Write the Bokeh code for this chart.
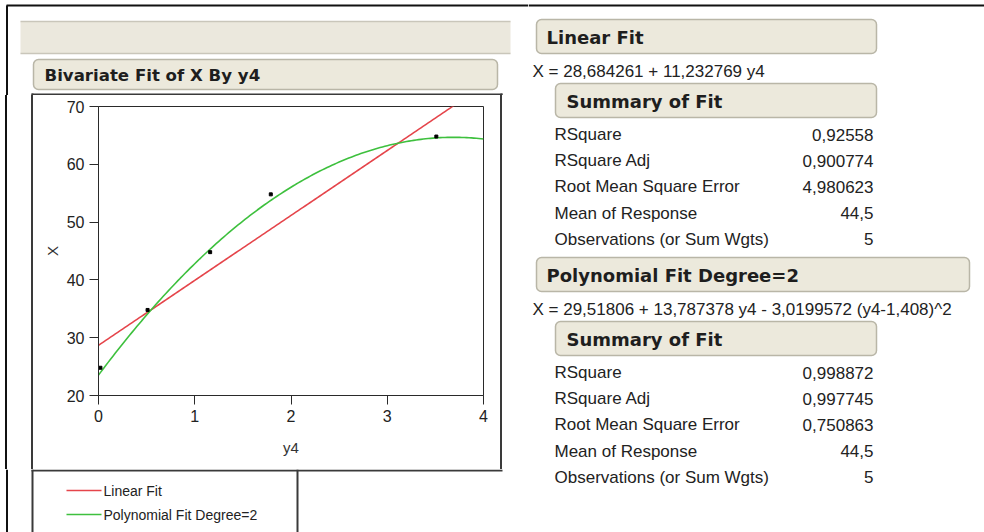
from bokeh.plotting import figure
from bokeh.layouts import row, column
from bokeh.models import Range1d, FixedTicker, Div
from bokeh.core.properties import value
from bokeh.embed import file_html
from bokeh.resources import INLINE
import numpy as np

# ---------------- data ----------------
y4 = [0.02, 0.51, 1.16, 1.79, 3.51]
X = [24.8, 34.8, 44.8, 54.8, 64.8]
x_ticks = [0, 1, 2, 3, 4]
y_ticks = [20, 30, 40, 50, 60, 70]
lin_coef = [28.684261, 11.232769]             # intercept, slope
poly_coef = [29.51806, 13.787378, -3.0199572]  # intercept, linear, quadratic (centered)
poly_center = 1.408

chart_title = "Bivariate Fit of X By y4"
lin_title = "Linear Fit"
lin_eq = "X = 28,684261 + 11,232769 y4"
poly_title = "Polynomial Fit Degree=2"
poly_eq = "X = 29,51806 + 13,787378 y4 - 3,0199572 (y4-1,408)^2"
summary_title = "Summary of Fit"
summary_labels = ["RSquare", "RSquare Adj", "Root Mean Square Error",
                  "Mean of Response", "Observations (or Sum Wgts)"]
lin_values = ["0,92558", "0,900774", "4,980623", "44,5", "5"]
poly_values = ["0,998872", "0,997745", "0,750863", "44,5", "5"]
legend_labels = ["Linear Fit", "Polynomial Fit Degree=2"]

RED = "#E5454B"
GREEN = "#3EC03E"
PANEL = "#ECE9DC"
PANEL_LINE = "#B9B6A7"
DARK = "#2a2a2a"
BOX = "#3a3a3a"

REG = value("Liberation Sans")
BOLD = value("DejaVu Sans")


def canvas(w, h):
    p = figure(width=w, height=h, x_range=Range1d(0, w), y_range=Range1d(h, 0),
               toolbar_location=None, output_backend="svg",
               x_axis_location=None, y_axis_location=None, min_border=0)
    p.xgrid.visible = False
    p.ygrid.visible = False
    p.outline_line_color = None
    p.background_fill_color = "white"
    p.border_fill_color = "white"
    return p


def panel(p, l, r, t, b, txt, tx, size):
    p.quad(left=[l], right=[r], top=[t], bottom=[b], fill_color=PANEL,
           line_color=PANEL_LINE, line_width=1.5, border_radius=5)
    p.text(x=[tx], y=[(t + b) / 2 + 1], text=[txt], text_font=BOLD,
           text_font_style="bold", text_font_size=size, text_color="#1e1e1e",
           text_baseline="middle", text_align="left")


# ---------------- left top (header + title) ----------------
L1 = canvas(528, 95)
L1.line([6, 528], [5, 5], color="#111", line_width=2)
L1.line([6.5, 6.5], [5, 95], color="#111", line_width=2)
L1.quad(left=[20], right=[510], top=[21], bottom=[53], fill_color="#EBE8DD", line_color=None)
L1.line([20, 510], [21, 21], color="#C9C6BA", line_width=1.5)
L1.line([20, 510], [53, 53], color="#C9C6BA", line_width=1.5)
panel(L1, 33, 497, 59, 89, chart_title, 44, "16.6px")
L1.line([31, 502], [94, 94], color=BOX, line_width=2)
L1.line([32, 32], [93, 95], color=BOX, line_width=2)
L1.line([501, 501], [93, 95], color=BOX, line_width=2)

# ---------------- chart side strips (box edges) ----------------
DL = Div(width=33, height=374, margin=(0, 0, 0, 0), styles={
    "background": "linear-gradient(to right, #fff 0px, #fff 5.5px, #111 5.5px, #111 7.5px, "
                  "#fff 7.5px, #fff 31px, #3a3a3a 31px, #3a3a3a 33px)"})
DR = Div(width=28, height=374, margin=(0, 0, 0, 0), styles={
    "background": "linear-gradient(to right, #3a3a3a 0px, #3a3a3a 2px, #fff 2px, #fff 28px)"})

# ---------------- chart ----------------
c = figure(width=467, height=374, x_range=Range1d(0, 4), y_range=Range1d(20, 70),
           toolbar_location=None, output_backend="svg",
           min_border_left=65, min_border_right=17, min_border_top=11, min_border_bottom=74)
c.xgrid.visible = False
c.ygrid.visible = False
c.outline_line_color = DARK
c.outline_line_width = 1
c.background_fill_color = "white"
c.border_fill_color = "white"
c.xaxis.ticker = FixedTicker(ticks=x_ticks)
c.yaxis.ticker = FixedTicker(ticks=y_ticks)
for ax in (c.xaxis[0], c.yaxis[0]):
    ax.major_tick_out = 9
    ax.major_tick_in = 0
    ax.minor_tick_out = 0
    ax.minor_tick_in = 0
    ax.axis_line_color = DARK
    ax.major_tick_line_color = DARK
    ax.major_label_text_font = "Liberation Sans"
    ax.major_label_text_font_size = "16px"
    ax.major_label_text_color = "#222"
    ax.major_label_standoff = 5
    ax.axis_label_text_font = "Liberation Sans"
    ax.axis_label_text_font_size = "15px"
    ax.axis_label_text_font_style = "normal"
    ax.axis_label_text_color = "#333"
c.xaxis.axis_label = "y4"
c.xaxis.axis_label_standoff = 14
c.yaxis.axis_label = "X"
c.yaxis.axis_label_standoff = 3

xs = np.linspace(x_ticks[0], x_ticks[-1], 161)
lin_y = lin_coef[0] + lin_coef[1] * xs
poly_y = poly_coef[0] + poly_coef[1] * xs + poly_coef[2] * (xs - poly_center) ** 2
c.line(xs, lin_y, color=RED, line_width=1.6)
c.line(xs, poly_y, color=GREEN, line_width=1.6)
c.scatter(y4, X, marker="square", size=3, color="black")

# ---------------- legend area ----------------
L3 = canvas(528, 63)
L3.line([6.5, 6.5], [0, 63], color="#111", line_width=2)
L3.line([31, 502], [1, 1], color=BOX, line_width=2)
L3.line([32, 32], [0, 63], color=BOX, line_width=2)
L3.line([297, 297], [0, 63], color=BOX, line_width=2)
leg_y = [21, 45]
for yy, col, lab in zip(leg_y, [RED, GREEN], legend_labels):
    L3.line([66, 101], [yy, yy], color=col, line_width=1.6)
    L3.text(x=[103], y=[yy], text=[lab], text_font=REG, text_font_size="14px",
            text_color="#222", text_baseline="middle", text_align="left")

# ---------------- right side ----------------
R = canvas(456, 532)
R.line([0, 456], [5, 5], color="#111", line_width=2)


def block(p, y0, title, eq, title_right, vals):
    panel(p, 8, title_right, y0, y0 + 34, title, 18, "18px")
    p.text(x=[4], y=[y0 + 52], text=[eq], text_font=REG, text_font_size="17px",
           text_color="#222", text_baseline="middle", text_align="left")
    panel(p, 27, 348, y0 + 64, y0 + 98, summary_title, 38, "18px")
    ys = [y0 + 115 + 26.2 * i for i in range(len(summary_labels))]
    p.text(x=[26] * len(ys), y=ys, text=summary_labels, text_font=REG,
           text_font_size="17px", text_color="#222", text_baseline="middle",
           text_align="left")
    p.text(x=[345] * len(ys), y=ys, text=vals, text_font=REG,
           text_font_size="17px", text_color="#222", text_baseline="middle",
           text_align="right")


block(R, 19, lin_title, lin_eq, 348, lin_values)
block(R, 257, poly_title, poly_eq, 441, poly_values)

layout = row(column(L1, row(DL, c, DR), L3), R)
open("out.html", "w").write(file_html(layout, INLINE))
